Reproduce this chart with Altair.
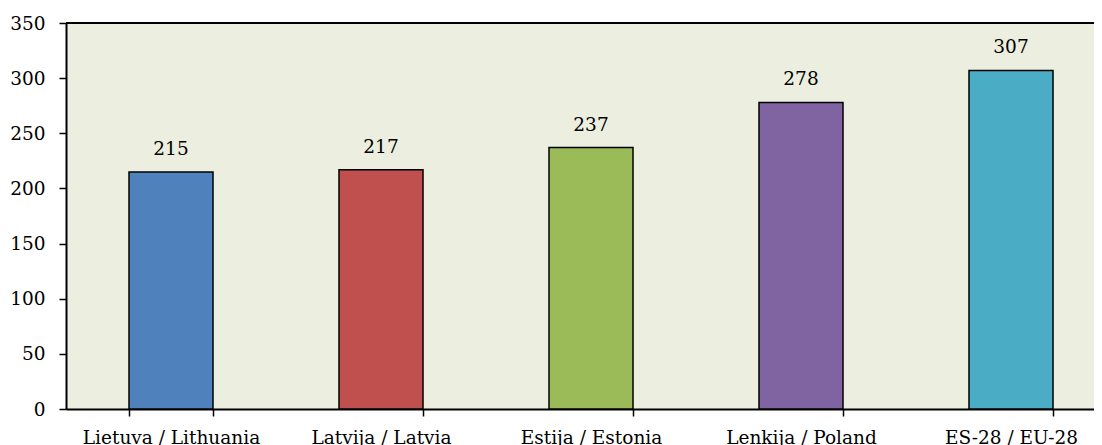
import altair as alt
import pandas as pd

categories = ["Lietuva / Lithuania", "Latvija / Latvia", "Estija / Estonia", "Lenkija / Poland", "ES-28 / EU-28"]
values = [215, 217, 237, 278, 307]
colors = ["#4F81BD", "#C0504D", "#9BBB59", "#8064A2", "#4BACC6"]

df = pd.DataFrame({"cat": categories, "val": values, "color": colors})

FONT = "DejaVu Serif"
W = 1028
H = 386

xscale = alt.Scale(range=[0, 1050], paddingInner=0.6, paddingOuter=0.3)
x = alt.X("cat:N", sort=categories, title=None, scale=xscale,
          axis=alt.Axis(labelAngle=0, tickBand="extent", tickSize=7, tickColor="black",
                        domainColor="black", labelFont=FONT, labelFontSize=18.5,
                        labelColor="black", labelPadding=12, labelBaseline="top"))
y = alt.Y("val:Q", title=None,
          scale=alt.Scale(domain=[0, 350]),
          axis=alt.Axis(values=[0, 50, 100, 150, 200, 250, 300, 350], grid=False,
                        tickSize=7, tickColor="black", domainColor="black",
                        labelFont=FONT, labelFontSize=18.5, labelColor="black",
                        labelPadding=14))

bars = alt.Chart(df).mark_bar(stroke="black", strokeWidth=1.5).encode(
    x=x, y=y, color=alt.Color("color:N", scale=None))

text = alt.Chart(df).mark_text(dy=-17, baseline="alphabetic", font=FONT, fontSize=18.5, color="black").encode(
    x=alt.X("cat:N", sort=categories), y="val:Q", text="val:Q")

top = alt.Chart(pd.DataFrame({"a": [0]})).mark_rule(color="black", strokeWidth=2).encode(
    x=alt.value(0), x2=alt.value(1050), y=alt.value(0))

chart = (bars + text + top).properties(
    width=W, height=H,
    autosize=alt.AutoSizeParams(type="none"),
    padding={"left": 58, "top": 15, "right": 0, "bottom": 36},
).configure_view(
    fill="#ECEFDF", stroke="transparent"
).configure_axis(domainWidth=2, tickWidth=1.5)

chart.save("out.html", embed_options={"renderer": "svg", "actions": False})
